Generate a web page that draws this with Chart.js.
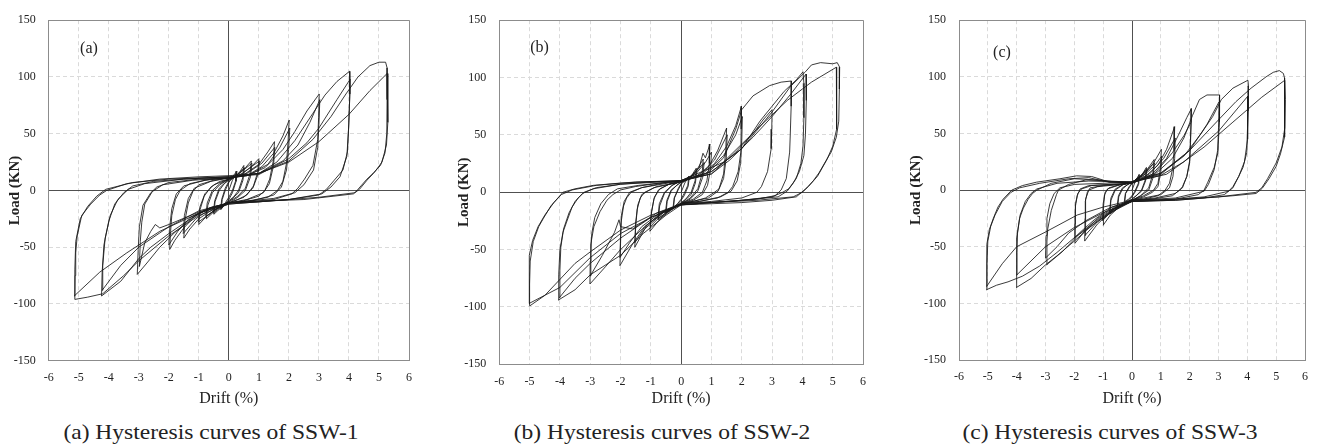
<!DOCTYPE html>
<html>
<head>
<meta charset="utf-8">
<script src="https://cdn.jsdelivr.net/npm/chart.js@4.4.1/dist/chart.umd.min.js"></script>
<style>
html,body{margin:0;padding:0;background:#fff;}
body{width:1318px;height:448px;position:relative;overflow:hidden;font-family:'Liberation Serif','Times New Roman',serif;color:#222;}
canvas{position:absolute;top:0;}
.tag{position:absolute;font-size:16px;line-height:16px;transform:translate(-50%,-50%);white-space:nowrap;}
.cap{position:absolute;font-size:21px;line-height:22px;white-space:nowrap;transform:translate(-50%,-50%) scaleX(1.12);}
</style>
</head>
<body>
<canvas id="c1"></canvas>
<canvas id="c2"></canvas>
<canvas id="c3"></canvas>
<script>
// tick labels
var driftTicks = [-6,-5,-4,-3,-2,-1,0,1,2,3,4,5,6];
var loadTicks = [-150,-100,-50,0,50,100,150];
var captions = ['(a) Hysteresis curves of SSW-1','(b) Hysteresis curves of SSW-2','(c) Hysteresis curves of SSW-3'];
var tags = ['(a)','(b)','(c)'];

// [drift %, load kN], cycle by cycle
var ssw1 = [
 [0,0],[0.12,9],[0.25,15],[0.22,8],[0.12,0],[0,-6],[-0.12,-11],[-0.25,-16],[-0.22,-8],[-0.12,0],[0,7],
 [0.12,12],[0.27,17],[0.24,8],[0.12,-2],[0,-8],[-0.15,-13],[-0.27,-17],[-0.24,-8],[-0.12,2],[0,8],
 [0.2,12],[0.38,17],[0.5,22],[0.46,11],[0.32,0],[0.15,-6],[0,-9],[-0.2,-14],[-0.38,-18],[-0.5,-21],[-0.46,-10],[-0.32,0],[-0.15,6],[0,9],
 [0.25,13],[0.52,20],[0.47,9],[0.32,-2],[0,-10],[-0.28,-15],[-0.52,-20],[-0.47,-9],[-0.32,2],[0,10],
 [0.3,14],[0.55,20],[0.75,26],[0.7,14],[0.55,2],[0.3,-5],[0,-10],[-0.3,-14],[-0.55,-20],[-0.75,-25],[-0.7,-13],[-0.55,-2],[-0.3,5],[0,10],
 [0.35,15],[0.77,24],[0.72,12],[0.55,0],[0.3,-6],[0,-11],[-0.35,-15],[-0.77,-23],[-0.72,-11],[-0.55,0],[-0.3,6],[0,10],
 [0.4,14],[0.75,21],[1.0,28],[0.96,16],[0.82,4],[0.6,-4],[0.3,-8],[0,-11],[-0.4,-16],[-0.75,-23],[-1.0,-30],[-0.96,-17],[-0.82,-5],[-0.6,3],[-0.3,8],[0,10],
 [0.45,15],[1.02,26],[0.97,14],[0.8,2],[0.5,-6],[0,-11],[-0.45,-17],[-1.02,-28],[-0.97,-15],[-0.8,-3],[-0.5,5],[0,10],
 [0.5,14],[1.0,23],[1.3,34],[1.52,43],[1.48,26],[1.36,10],[1.2,0],[1.0,-5],[0.5,-9],[0,-11],[-0.5,-16],[-1.0,-25],[-1.3,-34],[-1.5,-42],[-1.46,-26],[-1.35,-11],[-1.2,-1],[-1.0,5],[-0.5,9],[0,11],
 [0.6,15],[1.1,24],[1.53,38],[1.49,22],[1.35,6],[1.15,-2],[0.6,-8],[0,-11],[-0.6,-16],[-1.1,-25],[-1.52,-38],[-1.48,-22],[-1.35,-7],[-1.15,2],[-0.6,8],[0,11],
 [0.6,13],[1.1,21],[1.5,33],[1.8,48],[2.01,62],[1.97,42],[1.92,24],[1.8,8],[1.62,0],[1.3,-6],[0.7,-9],[0,-11],[-0.6,-15],[-1.1,-22],[-1.5,-33],[-1.8,-44],[-1.97,-52],[-1.94,-36],[-1.9,-22],[-1.78,-8],[-1.62,0],[-1.3,6],[-0.6,10],[0,11],
 [0.7,14],[1.3,23],[1.7,38],[2.03,55],[1.99,36],[1.92,18],[1.75,3],[1.5,-4],[0.8,-9],[0,-11],[-0.7,-16],[-1.3,-24],[-1.7,-36],[-2.0,-48],[-1.96,-30],[-1.9,-16],[-1.75,-3],[-1.5,4],[-0.8,9],[0,11],
 [0.6,13],[1.2,20],[1.8,36],[2.2,52],[2.6,70],[3.01,85],[2.99,64],[2.96,45],[2.8,22],[2.52,10],[2.3,2],[2.1,-3],[1.5,-8],[0.6,-10],[0,-11],[-0.6,-15],[-1.2,-24],[-1.8,-37],[-2.3,-50],[-2.7,-63],[-3.05,-74],[-3.02,-52],[-2.98,-32],[-2.86,-13],[-2.6,-2],[-2.4,3],[-2.0,7],[-1.0,10],[0,11],
 [1.0,15],[1.8,26],[2.3,40],[2.7,60],[3.03,80],[3.0,58],[2.96,38],[2.82,18],[2.5,5],[2.2,-2],[1.5,-7],[0,-11],[-1.0,-19],[-2.0,-30],[-2.3,-33],[-2.45,-30],[-2.6,-36],[-2.8,-46],[-2.98,-67],[-2.95,-45],[-2.9,-28],[-2.8,-12],[-2.55,-1],[-2.2,5],[-1.2,9],[0,11],
 [1.0,15],[1.6,25],[2.2,44],[2.8,68],[3.2,84],[3.6,96],[4.02,105],[4.03,85],[4.0,62],[3.95,34],[3.8,18],[3.51,9],[3.25,1],[3.0,-4],[2.0,-8],[1.0,-10],[0,-11],[-1.0,-20],[-2.0,-38],[-2.6,-50],[-3.0,-60],[-3.6,-80],[-4.24,-93],[-4.22,-72],[-4.16,-48],[-4.0,-27],[-3.8,-12],[-3.5,-2],[-3.2,4],[-2.5,8],[-1.5,10],[0,12],
 [1.0,14],[2.0,28],[2.6,42],[3.0,55],[3.6,80],[4.04,98],[4.02,78],[3.99,55],[3.93,30],[3.7,12],[3.4,3],[3.1,-3],[2.0,-8],[0,-11],[-1.0,-18],[-2.0,-32],[-3.0,-50],[-3.6,-66],[-4.22,-88],[-4.2,-66],[-4.12,-42],[-3.95,-22],[-3.7,-8],[-3.35,1],[-2.8,6],[-1.5,10],[0,12],
 [1.0,15],[2.0,26],[2.8,45],[3.4,65],[3.9,85],[4.3,100],[4.7,110],[5.0,113],[5.22,113],[5.27,108],[5.27,80],[5.26,50],[5.2,33],[5.05,22],[4.8,15],[4.6,10],[4.4,4],[4.27,0],[4.15,-3],[3.5,-5],[2.5,-8],[1.5,-9],[0,-12],[-1.0,-22],[-2.0,-40],[-3.0,-62],[-3.5,-75],[-4.2,-91],[-4.7,-94],[-5.13,-96],[-5.12,-75],[-5.1,-55],[-5.05,-40],[-4.9,-22],[-4.6,-12],[-4.3,-4],[-4.07,0],[-3.4,6],[-2.3,10],[-1.0,12],[0,13],
 [1.0,15],[2.0,25],[3.0,43],[4.0,67],[4.7,88],[5.27,103],[5.3,90],[5.29,60],[5.25,40],[5.1,25],[4.85,16],[4.6,9],[4.35,1],[4.2,-2],[3.0,-6],[1.5,-9],[0,-12],[-1.0,-20],[-2.3,-36],[-3.4,-55],[-4.3,-72],[-5.15,-93],[-5.13,-70],[-5.1,-45],[-4.95,-25],[-4.7,-14],[-4.4,-5],[-4.1,1],[-3.2,7],[-2.0,10],[0,12]
];

var ssw2 = [
 [0,0],[0.12,8],[0.25,14],[0.22,6],[0.1,-1],[0,-6],[-0.12,-10],[-0.25,-13],[-0.22,-5],[-0.1,2],[0,7],
 [0.12,10],[0.27,13],[0.23,5],[0.1,-3],[0,-7],[-0.14,-11],[-0.27,-14],[-0.23,-5],[-0.1,3],[0,8],
 [0.2,11],[0.38,16],[0.5,21],[0.46,10],[0.33,0],[0.15,-6],[0,-9],[-0.2,-13],[-0.38,-16],[-0.5,-18],[-0.46,-8],[-0.33,1],[-0.15,6],[0,9],
 [0.25,12],[0.52,19],[0.47,8],[0.33,-2],[0,-10],[-0.28,-14],[-0.52,-18],[-0.47,-7],[-0.33,2],[0,9],
 [0.3,13],[0.55,21],[0.73,29],[0.69,16],[0.55,3],[0.3,-5],[0,-10],[-0.3,-15],[-0.55,-20],[-0.75,-24],[-0.71,-12],[-0.55,-1],[-0.3,6],[0,10],
 [0.35,14],[0.76,26],[0.71,13],[0.55,1],[0.3,-6],[0,-10],[-0.35,-15],[-0.77,-23],[-0.72,-10],[-0.55,0],[-0.3,6],[0,10],
 [0.4,15],[0.6,22],[0.72,34],[0.8,30],[0.95,42],[0.93,25],[0.85,10],[0.7,0],[0.4,-6],[0,-10],[-0.4,-16],[-0.75,-25],[-1.03,-34],[-0.99,-20],[-0.9,-6],[-0.75,2],[-0.4,7],[0,10],
 [0.45,15],[0.8,26],[1.0,35],[0.97,20],[0.87,6],[0.7,-2],[0.4,-7],[0,-10],[-0.45,-17],[-0.8,-24],[-1.02,-30],[-0.98,-17],[-0.88,-4],[-0.7,3],[-0.4,7],[0,10],
 [0.5,14],[0.9,22],[1.2,36],[1.5,56],[1.47,36],[1.4,16],[1.25,3],[1.1,0],[0.8,-5],[0.4,-8],[0,-10],[-0.6,-18],[-1.2,-32],[-1.53,-48],[-1.5,-30],[-1.45,-15],[-1.35,-5],[-1.2,0],[-0.8,5],[0,9],
 [0.6,15],[1.1,28],[1.52,50],[1.49,30],[1.4,12],[1.22,1],[0.9,-5],[0,-10],[-0.6,-17],[-1.1,-28],[-1.53,-44],[-1.5,-26],[-1.43,-11],[-1.3,-2],[-0.9,4],[0,9],
 [0.6,14],[1.1,25],[1.5,40],[1.8,58],[1.99,75],[1.98,55],[1.97,35],[1.88,18],[1.7,5],[1.55,0],[1.2,-5],[0.6,-8],[0,-10],[-0.6,-17],[-1.2,-30],[-1.6,-45],[-2.02,-64],[-2.0,-45],[-1.98,-26],[-1.9,-12],[-1.8,-5],[-1.65,0],[-1.3,4],[-0.6,8],[0,10],
 [0.8,16],[1.4,32],[1.8,50],[2.02,66],[2.0,45],[1.96,25],[1.85,10],[1.65,1],[1.3,-4],[0.6,-8],[0,-10],[-0.7,-18],[-1.3,-30],[-1.7,-44],[-2.02,-57],[-2.0,-38],[-1.97,-20],[-1.88,-8],[-1.7,0],[-1.3,4],[0,10],
 [0.8,15],[1.4,30],[1.8,55],[2.0,72],[2.37,84],[2.92,93],[3.3,96],[3.64,97],[3.63,75],[3.6,50],[3.58,35],[3.47,12],[3.3,2],[3.1,-3],[2.5,-6],[1.5,-8],[0,-10],[-0.6,-18],[-1.2,-30],[-2.0,-50],[-2.5,-65],[-3.01,-80],[-3.0,-60],[-2.98,-45],[-2.88,-30],[-2.68,-17],[-2.45,-7],[-2.25,-2],[-2.0,2],[-1.5,5],[-0.7,8],[0,10],
 [1.0,16],[1.8,35],[2.4,52],[2.7,63],[3.0,72],[2.99,55],[2.97,38],[2.85,18],[2.65,5],[2.5,0],[2.0,-5],[1.0,-8],[0,-10],[-0.8,-18],[-1.6,-32],[-2.0,-30],[-2.05,-24],[-2.2,-35],[-2.6,-55],[-3.0,-73],[-2.98,-52],[-2.95,-36],[-2.85,-22],[-2.65,-10],[-2.4,-2],[-2.1,3],[-1.4,6],[0,10],
 [1.0,18],[2.0,38],[2.6,62],[3.0,75],[3.4,88],[3.8,98],[4.02,105],[4.05,95],[4.05,65],[4.02,40],[3.95,25],[3.8,12],[3.55,3],[3.35,0],[3.0,-4],[2.0,-7],[1.0,-9],[0,-11],[-0.5,-20],[-1.25,-36],[-2.0,-55],[-3.0,-72],[-3.5,-85],[-4.05,-94],[-4.04,-72],[-4.0,-50],[-3.9,-35],[-3.78,-26],[-3.6,-13],[-3.4,-5],[-3.2,0],[-2.8,4],[-2.0,7],[-1.0,9],[0,10],
 [1.0,16],[1.6,28],[2.37,48],[3.0,66],[3.6,85],[4.12,103],[4.13,80],[4.1,50],[4.05,32],[3.9,18],[3.7,8],[3.5,1],[3.2,-4],[2.0,-7],[0,-11],[-1.0,-22],[-2.0,-40],[-3.0,-62],[-3.5,-75],[-4.02,-92],[-4.0,-68],[-3.97,-48],[-3.88,-32],[-3.7,-18],[-3.5,-8],[-3.25,-1],[-2.9,3],[-2.0,7],[0,10],
 [1.0,18],[2.0,38],[3.0,70],[3.6,92],[4.1,105],[4.3,111],[4.6,113],[5.0,112],[5.15,113],[5.23,109],[5.22,90],[5.2,62],[5.12,48],[4.95,35],[4.79,28],[4.55,17],[4.36,10],[4.15,4],[4.02,1],[3.8,-4],[3.0,-7],[2.0,-9],[1.0,-10],[0,-11],[-1.0,-20],[-2.0,-33],[-3.0,-52],[-3.5,-62],[-4.0,-76],[-4.5,-90],[-4.99,-99],[-5.0,-80],[-4.98,-60],[-4.88,-43],[-4.7,-30],[-4.55,-23],[-4.3,-12],[-4.0,-3],[-3.9,0],[-3.5,3],[-2.9,6],[-2.0,8],[-1.25,9],[0,10],
 [1.38,26],[2.5,55],[3.5,80],[4.3,96],[5.12,109],[5.14,85],[5.12,55],[5.0,40],[4.8,28],[4.5,14],[4.2,5],[4.0,0],[3.7,-4],[2.5,-7],[1.0,-9],[0,-11],[-1.0,-22],[-2.0,-36],[-3.0,-57],[-4.0,-83],[-5.02,-97],[-5.02,-75],[-5.0,-55],[-4.9,-42],[-4.72,-30],[-4.5,-20],[-4.2,-9],[-3.95,-2],[-3.6,2],[-2.8,6],[-1.5,9],[0,10]
];

var ssw3 = [
 [0,0],[0.12,8],[0.25,14],[0.22,6],[0.1,-1],[0,-5],[-0.12,-8],[-0.25,-10],[-0.22,-3],[-0.1,2],[0,6],
 [0.12,9],[0.27,13],[0.23,5],[0.1,-2],[0,-6],[-0.13,-9],[-0.27,-11],[-0.23,-3],[-0.1,3],[0,6],
 [0.2,10],[0.38,15],[0.5,20],[0.46,9],[0.33,0],[0.15,-5],[0,-8],[-0.2,-11],[-0.38,-14],[-0.5,-16],[-0.46,-6],[-0.33,1],[-0.15,5],[0,7],
 [0.25,11],[0.52,19],[0.47,8],[0.33,-1],[0,-8],[-0.28,-12],[-0.52,-15],[-0.47,-5],[-0.33,2],[0,7],
 [0.3,12],[0.55,19],[0.77,27],[0.72,14],[0.58,2],[0.3,-5],[0,-9],[-0.3,-13],[-0.55,-17],[-0.77,-21],[-0.73,-9],[-0.58,0],[-0.3,5],[0,7],
 [0.35,13],[0.78,24],[0.73,11],[0.58,0],[0.3,-5],[0,-9],[-0.35,-13],[-0.78,-19],[-0.73,-7],[-0.58,1],[-0.3,5],[0,7],
 [0.4,13],[0.75,24],[1.02,36],[0.99,20],[0.9,6],[0.75,0],[0.4,-5],[0,-9],[-0.4,-14],[-0.75,-22],[-1.0,-31],[-0.99,-15],[-0.95,-4],[-0.85,1],[-0.5,4],[0,7],
 [0.45,14],[0.8,22],[1.03,30],[1.0,16],[0.9,3],[0.7,-2],[0.4,-6],[0,-9],[-0.45,-15],[-0.8,-21],[-1.02,-27],[-1.0,-12],[-0.93,-2],[-0.8,2],[-0.4,5],[0,7],
 [0.5,13],[0.9,22],[1.2,36],[1.48,56],[1.46,35],[1.4,18],[1.3,6],[1.15,0],[0.9,-5],[0.4,-8],[0,-9],[-0.6,-16],[-1.2,-30],[-1.64,-45],[-1.63,-25],[-1.62,-10],[-1.55,-2],[-1.45,2],[-1.0,4],[0,6],
 [0.6,14],[1.1,28],[1.5,46],[1.48,28],[1.42,12],[1.3,2],[1.0,-4],[0.4,-7],[0,-9],[-0.6,-16],[-1.2,-28],[-1.63,-40],[-1.62,-22],[-1.6,-8],[-1.5,0],[-1.2,3],[0,6],
 [0.7,14],[1.2,28],[1.6,48],[1.9,64],[2.06,72],[2.05,60],[2.02,40],[2.0,24],[1.9,12],[1.75,3],[1.65,0],[1.4,-5],[0.7,-8],[0,-10],[-0.6,-15],[-1.2,-25],[-1.6,-35],[-1.98,-47],[-1.97,-30],[-1.96,-14],[-1.9,-5],[-1.8,1],[-1.5,4],[-0.8,5],[0,6],
 [0.8,15],[1.4,33],[1.8,48],[2.05,60],[2.03,42],[2.0,26],[1.9,12],[1.75,2],[1.5,-3],[0.8,-7],[0,-9],[-0.7,-15],[-1.3,-26],[-1.7,-35],[-2.0,-42],[-1.98,-26],[-1.96,-12],[-1.88,-3],[-1.75,1],[-1.4,4],[0,6],
 [0.8,14],[1.4,28],[1.8,46],[2.1,66],[2.34,80],[2.6,84],[3.04,84],[3.05,78],[3.02,60],[3.0,45],[2.98,33],[2.85,20],[2.63,7],[2.5,0],[2.3,-4],[1.5,-8],[0,-10],[-0.6,-16],[-1.2,-26],[-1.8,-38],[-2.4,-54],[-2.96,-66],[-2.95,-45],[-2.92,-34],[-2.8,-18],[-2.62,-4],[-2.55,0],[-2.2,5],[-1.6,9],[-0.8,8],[0,7],
 [1.0,14],[2.0,35],[2.6,58],[3.02,78],[3.0,55],[2.97,35],[2.85,18],[2.65,5],[2.5,-1],[1.5,-7],[0,-9],[-0.8,-16],[-1.6,-27],[-2.2,-38],[-2.6,-50],[-3.0,-60],[-2.98,-40],[-2.95,-25],[-2.85,-12],[-2.7,-3],[-2.5,2],[-2.0,5],[-1.0,6],[0,7],
 [1.0,15],[1.8,30],[2.4,50],[2.8,65],[3.1,80],[3.5,90],[4.02,97],[4.04,92],[4.03,70],[4.0,50],[3.98,33],[3.85,20],[3.7,12],[3.5,2],[3.4,0],[3.2,-4],[2.5,-7],[1.5,-9],[0,-10],[-0.6,-17],[-1.2,-27],[-2.0,-45],[-2.6,-58],[-3.0,-66],[-3.5,-78],[-4.01,-86],[-4.0,-65],[-4.0,-42],[-3.9,-25],[-3.77,-16],[-3.6,-8],[-3.45,-3],[-3.3,0],[-2.8,6],[-2.0,10],[-1.2,9],[-0.5,7],[0,7],
 [1.0,13],[1.8,25],[3.0,52],[4.02,83],[4.02,70],[4.0,45],[3.9,25],[3.7,12],[3.5,3],[3.35,-1],[2.5,-6],[1.0,-9],[0,-10],[-1.0,-20],[-2.0,-33],[-3.0,-50],[-4.0,-75],[-3.99,-55],[-3.97,-38],[-3.88,-22],[-3.7,-10],[-3.5,-3],[-3.3,1],[-2.6,6],[-1.5,8],[0,7],
 [1.0,15],[2.0,35],[3.0,62],[3.6,78],[4.13,90],[4.65,100],[4.9,104],[5.11,105.5],[5.25,103],[5.29,99],[5.3,80],[5.3,60],[5.28,47],[5.15,32],[5.0,21],[4.75,10],[4.53,2],[4.45,0],[4.3,-3],[3.5,-5],[2.5,-7],[1.5,-9],[0,-10],[-0.6,-18],[-1.2,-28],[-2.0,-42],[-2.6,-55],[-3.2,-67],[-3.8,-76],[-4.3,-81],[-4.7,-84],[-5.05,-88],[-5.04,-70],[-5.03,-48],[-4.95,-35],[-4.81,-25],[-4.65,-15],[-4.47,-8],[-4.17,0],[-3.8,4],[-3.31,7],[-2.5,10],[-1.92,12.6],[-1.4,12],[-0.77,7],[0,7],
 [1.2,14],[2.5,38],[3.5,60],[4.5,82],[5.3,97],[5.32,80],[5.3,55],[5.2,38],[5.0,24],[4.7,10],[4.5,2],[4.3,-2],[3.0,-6],[1.5,-8],[0,-9],[-1.0,-15],[-1.9,-22],[-3.0,-37],[-4.0,-50],[-4.5,-65],[-5.04,-85],[-5.03,-65],[-5.0,-45],[-4.9,-32],[-4.75,-22],[-4.5,-10],[-4.2,-2],[-3.9,2],[-3.2,6],[-2.2,10],[-1.5,11],[-0.8,7],[0,7]
];

var series = [ssw1, ssw2, ssw3];

// where each panel sits on the page
var panels = [
  {id:'c1', plotL:48.7, plotR:410, plotT:15.7, plotB:360.7, titleX:15, tagX:89, tagY:48, capX:211},
  {id:'c2', plotL:499.3, plotR:863.3, plotT:16, plotB:364.3, titleX:464, tagX:539.5, tagY:46.5, capX:661.7},
  {id:'c3', plotL:959, plotR:1305.7, plotT:15.7, plotB:360, titleX:915.5, tagX:1002, tagY:51.5, capX:1109.7}
];

var serif = 'Liberation Serif, Times New Roman, serif';
Chart.defaults.font.family = serif;
Chart.defaults.color = '#222';

function lineStyle(lim) {
  return {
    grid: {
      drawTicks: false,
      lineWidth: 1,
      color: function(ctx) {
        var v = ctx.tick ? ctx.tick.value : null;
        if (v === 0) return '#505050';
        if (v !== null && Math.abs(v) === lim) return '#8c8c8c';
        return '#dadada';
      }
    },
    border: {
      display: true, color: '#8c8c8c', width: 1,
      dash: function(ctx) {
        var v = ctx.tick ? ctx.tick.value : null;
        if (v === null || v === 0 || Math.abs(v) === lim) return [];
        return [4, 3];
      }
    }
  };
}

function makeChart(p, pts, k) {
  var H = 410;
  var left = Math.round(p.titleX - 11);
  var W = Math.ceil(p.plotR - left + 12);
  var cv = document.getElementById(p.id);
  cv.width = W; cv.height = H;
  cv.style.left = left + 'px';
  var yW = p.plotL - left;
  var xH = H - p.plotB;
  var padR = W - (p.plotR - left);

  var xs = lineStyle(6), ys = lineStyle(150);
  new Chart(cv.getContext('2d'), {
    type: 'scatter',
    data: {
      datasets: [{
        data: pts.map(function(q){ return {x: q[0], y: q[1]}; }),
        showLine: true,
        borderColor: 'rgba(25,25,25,0.85)',
        borderWidth: 1,
        pointRadius: 0,
        tension: 0,
        borderJoinStyle: 'round'
      }]
    },
    options: {
      responsive: false,
      animation: false,
      events: [],
      font: {family: serif},
      layout: {padding: {top: p.plotT, right: padR, left: 0, bottom: 0}},
      plugins: {legend: {display: false}, tooltip: {enabled: false}},
      scales: {
        x: {
          type: 'linear', min: -6, max: 6,
          afterBuildTicks: function(s){ s.ticks = driftTicks.map(function(v){ return {value: v}; }); },
          afterFit: function(s){ s.height = xH; },
          ticks: {font: {family: serif, size: 12}, padding: 10, color: '#222', maxRotation: 0,
                  callback: function(v){ return String(v); }},
          grid: xs.grid, border: xs.border,
          title: {display: true, text: 'Drift (%)', font: {family: serif, size: 16}, color: '#222', padding: {top: 0, bottom: 1.4}}
        },
        y: {
          type: 'linear', min: -150, max: 150,
          afterBuildTicks: function(s){ s.ticks = loadTicks.map(function(v){ return {value: v}; }); },
          afterFit: function(s){ s.width = yW; },
          ticks: {font: {family: serif, size: 12}, padding: 13, color: '#222',
                  callback: function(v){ return String(v); }},
          grid: ys.grid, border: ys.border,
          title: {display: true, text: 'Load (KN)', font: {family: serif, size: 15, weight: 'bold'}, color: '#222', padding: {top: 2, bottom: 0}}
        }
      }
    }
  });

  var t = document.createElement('div');
  t.className = 'tag';
  t.style.left = p.tagX + 'px'; t.style.top = p.tagY + 'px';
  t.textContent = tags[k];
  document.body.appendChild(t);

  var c = document.createElement('div');
  c.className = 'cap';
  c.style.left = p.capX + 'px'; c.style.top = '432px';
  c.textContent = captions[k];
  document.body.appendChild(c);
}

for (var i = 0; i < panels.length; i++) makeChart(panels[i], series[i], i);
</script>
</body>
</html>
